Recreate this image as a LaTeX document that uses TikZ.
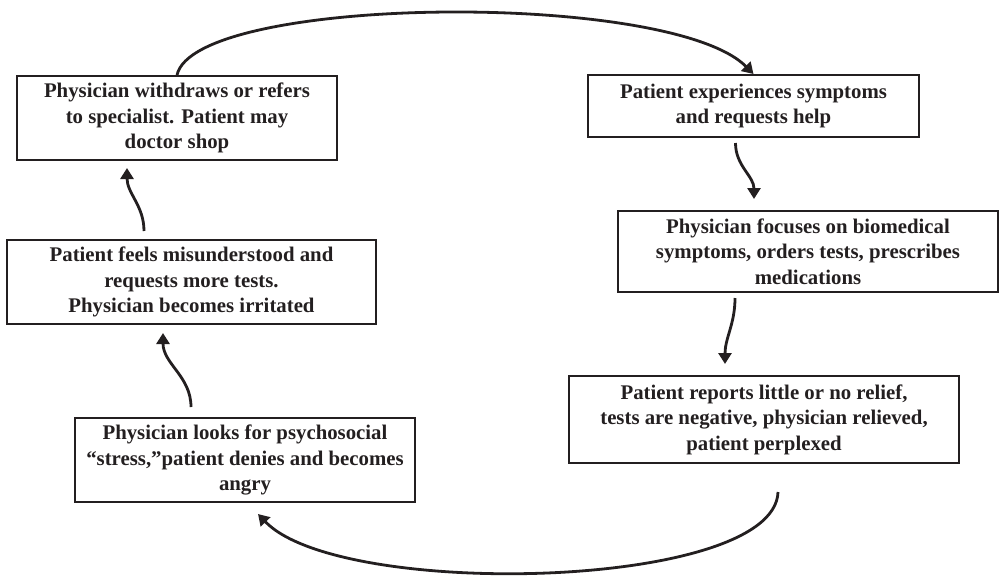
\documentclass[tikz,border=0pt]{standalone}
\usepackage{fontspec}
\setmainfont{Liberation Serif}
\usetikzlibrary{arrows.meta}
\definecolor{inkblack}{RGB}{35, 31, 32}

\begin{document}
\begin{tikzpicture}[
    x=0.5pt, y=0.5pt,
    font=\bfseries\fontsize{10.4}{12.75}\selectfont,
    box/.style={rectangle, draw=inkblack, line width=1pt, align=center,
                text=inkblack, inner sep=2pt},
    arr/.style={-{Triangle[width=6.5pt, length=5.5pt]}, draw=inkblack, line width=1.4pt}
]
\useasboundingbox (0,0) rectangle (1001,-580);

% =========== boxes of the cycle ===========
\node[box, minimum width=160pt,   minimum height=42pt]   (withdraw) at (177,-118)
    {Physician withdraws or refers\\to specialist. Patient may\\doctor shop};
\node[box, minimum width=165.5pt, minimum height=31pt]   (symptoms) at (753.5,-106)
    {Patient experiences symptoms\\and requests help};
\node[box, minimum width=190pt,   minimum height=40.5pt] (biomed)   at (808,-251.5)
    {Physician focuses on biomedical\\symptoms, orders tests, prescribes\\medications};
\node[box, minimum width=195pt,   minimum height=43.5pt] (relief)   at (764,-419.5)
    {Patient reports little or no relief,\\tests are negative, physician relieved,\\patient perplexed};
\node[box, minimum width=170pt,   minimum height=42pt]   (stress)   at (245,-460)
    {Physician looks for psychosocial\\``stress,''patient denies and becomes\\angry};
\node[box, minimum width=184.5pt, minimum height=42pt]   (misund)   at (191.5,-282)
    {Patient feels misunderstood and\\requests more tests.\\Physician becomes irritated};

% =========== connectors ===========
\draw[arr] (withdraw.north) .. controls (195,5) and (670,10) .. (symptoms.north);
\draw[arr] ([xshift=-9pt, yshift=-2.5pt]symptoms.south) to[out=-90, in=90]
           ([xshift=-27pt, yshift=5.5pt]biomed.north);
\draw[arr] ([xshift=-36.5pt, yshift=-2.5pt]biomed.south) to[out=-90, in=90]
           ([xshift=-19.5pt, yshift=5.5pt]relief.north);
\draw[arr] ([xshift=7pt, yshift=-14pt]relief.south) .. controls (775,-590) and (340,-600) ..
           ([xshift=6.5pt, yshift=-5.5pt]stress.south);
\draw[arr] ([xshift=-27pt, yshift=5pt]stress.north) to[out=90, in=-90]
           ([xshift=-14.25pt, yshift=-4pt]misund.south);
\draw[arr] ([xshift=-23.75pt, yshift=4pt]misund.north) to[out=90, in=-90]
           ([xshift=-25pt, yshift=-3.5pt]withdraw.south);

\end{tikzpicture}
\end{document}
